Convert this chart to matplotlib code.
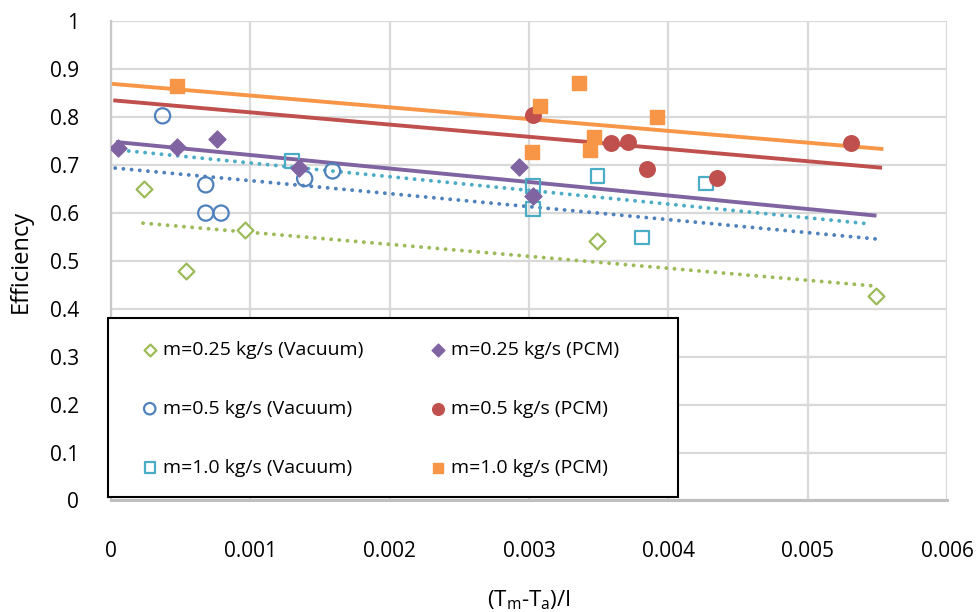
import matplotlib
matplotlib.use("Agg")
import matplotlib.pyplot as plt
from matplotlib.patches import Rectangle, Shadow

plt.rcParams['font.family'] = ['Open Sans', 'DejaVu Sans']

# scatter data
vac025_x = [0.00024, 0.00054, 0.00096, 0.00349, 0.00549]
vac025_y = [0.650, 0.479, 0.565, 0.541, 0.426]

vac05_x = [0.00037, 0.00068, 0.00068, 0.00079, 0.00139, 0.00159]
vac05_y = [0.803, 0.659, 0.600, 0.600, 0.672, 0.688]

vac10_x = [0.00130, 0.00303, 0.00303, 0.00349, 0.00381, 0.00427]
vac10_y = [0.709, 0.657, 0.609, 0.677, 0.549, 0.662]

pcm025_x = [0.00005, 0.00047, 0.00076, 0.00135, 0.00293, 0.00303]
pcm025_y = [0.736, 0.738, 0.755, 0.694, 0.697, 0.636]

pcm05_x = [0.00303, 0.00359, 0.00371, 0.00385, 0.00435, 0.00531]
pcm05_y = [0.805, 0.746, 0.749, 0.692, 0.673, 0.746]

pcm10_x = [0.00047, 0.00302, 0.00308, 0.00336, 0.00344, 0.00347, 0.00392]
pcm10_y = [0.865, 0.728, 0.824, 0.872, 0.732, 0.758, 0.801]

# linear trendlines (start / end values)
trend_vac025 = ([0.00023, 0.00547], [0.579, 0.448])
trend_vac05 = ([0.00003, 0.00549], [0.694, 0.546])
trend_vac10 = ([0.00001, 0.00546], [0.733, 0.577])
trend_pcm025 = ([0.00005, 0.00548], [0.748, 0.595])
trend_pcm05 = ([0.00003, 0.00552], [0.835, 0.695])
trend_pcm10 = ([0.00000, 0.00553], [0.870, 0.734])

green = '#9BBB59'
purple = '#8064A2'
blue = '#4F81BD'
red = '#C0504D'
cyan = '#4BACC6'
orange = '#F79646'

fig = plt.figure(figsize=(9.79, 6.12), dpi=100)
ax = fig.add_axes([0.1134, 0.1822, 0.8539, 0.7827])

# trendlines
dots = dict(lw=2.8, ls=(0, (0.01, 2.1)), dash_capstyle='round', zorder=2)
ax.plot(*trend_vac025, color=green, **dots)
ax.plot(*trend_vac05, color=blue, **dots)
ax.plot(*trend_vac10, color=cyan, **dots)
ax.plot(*trend_pcm025, color=purple, lw=2.8, zorder=2)
ax.plot(*trend_pcm05, color=red, lw=2.8, zorder=2)
ax.plot(*trend_pcm10, color=orange, lw=2.8, zorder=2)

# points
h1 = ax.scatter(vac025_x, vac025_y, marker='D', s=65, facecolors='white', edgecolors=green, linewidths=1.6,
                label='m=0.25 kg/s (Vacuum)', zorder=3)
h2 = ax.scatter(vac05_x, vac05_y, marker='o', s=120, facecolors='none', edgecolors=blue, linewidths=1.6,
                label='m=0.5 kg/s (Vacuum)', zorder=3)
h3 = ax.scatter(vac10_x, vac10_y, marker='s', s=95, facecolors='none', edgecolors=cyan, linewidths=1.6,
                label='m=1.0 kg/s (Vacuum)', zorder=3)
h4 = ax.scatter(pcm025_x, pcm025_y, marker='D', s=75, color=purple, label='m=0.25 kg/s (PCM)', zorder=3)
h5 = ax.scatter(pcm05_x, pcm05_y, marker='o', s=125, color=red, label='m=0.5 kg/s (PCM)', zorder=3)
h6 = ax.scatter(pcm10_x, pcm10_y, marker='s', s=105, color=orange, label='m=1.0 kg/s (PCM)', zorder=3)

ax.set_xlim(0, 0.006)
ax.set_ylim(0, 1)
ax.set_xticks([0, 0.001, 0.002, 0.003, 0.004, 0.005, 0.006])
ax.set_xticklabels(['0', '0.001', '0.002', '0.003', '0.004', '0.005', '0.006'])
ax.set_yticks([i / 10 for i in range(11)])
ax.set_yticklabels(['0', '0.1', '0.2', '0.3', '0.4', '0.5', '0.6', '0.7', '0.8', '0.9', '1'])
ax.tick_params(axis='both', length=0, labelsize=15, colors='black')
ax.tick_params(axis='x', pad=29)
ax.tick_params(axis='y', pad=23)
ax.grid(True, color='#d9d9d9', lw=1.6)
ax.set_axisbelow(True)
for side in ['top', 'right']:
    ax.spines[side].set_visible(False)
ax.spines['left'].set_color('#c8c8c8')
ax.spines['left'].set_linewidth(1.6)
ax.spines['bottom'].set_color('#bfbfbf')
ax.spines['bottom'].set_linewidth(2.2)

ax.set_ylabel('Efficiency', fontsize=17)
ax.yaxis.set_label_coords(-0.094, 0.5)
ax.set_xlabel(r'(T$_\mathregular{m}$-T$_\mathregular{a}$)/I', fontsize=16)
ax.xaxis.set_label_coords(0.5, -0.184)

# legend box
box = Rectangle((-0.0036, 0.0073), 0.6816, 0.374, transform=ax.transAxes, facecolor='white',
                edgecolor='black', lw=1.5, clip_on=False, zorder=5)
shadow = Shadow(box, 2, -2, color='0.82', zorder=4.9)
shadow.set_clip_on(False)
ax.add_patch(shadow)
ax.add_patch(box)

leg = ax.legend(handles=[h1, h2, h3, h4, h5, h6], ncol=2, loc='upper left',
                bbox_to_anchor=(0.037, 0.333), fontsize=14, frameon=False,
                borderpad=0, labelspacing=2.1, handletextpad=0.3, handlelength=0.8,
                borderaxespad=0, columnspacing=3.4, markerscale=0.75)
leg.set_zorder(6)

fig.savefig('out.png', dpi=100)
